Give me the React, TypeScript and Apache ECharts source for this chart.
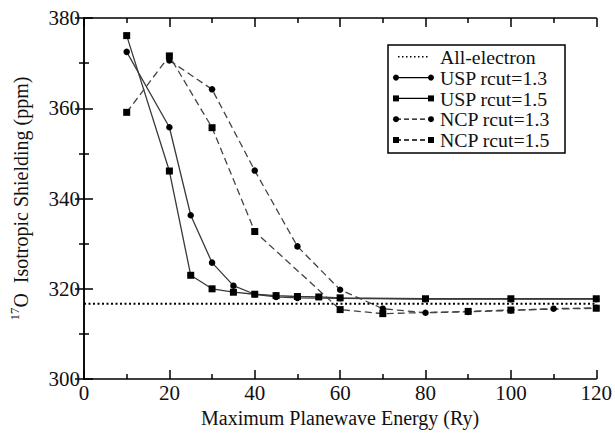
import React, { useEffect, useRef } from "react";
import * as echarts from "echarts";

const uspX13 = [10, 20, 25, 30, 35, 40, 45, 50, 60, 80, 100, 120];
const uspY13 = [372.5, 355.8, 336.3, 325.8, 320.7, 318.8, 318.2, 318.0, 317.9, 317.7, 317.7, 317.7];
const uspX15 = [10, 20, 25, 30, 35, 40, 45, 50, 55, 60, 80, 100, 120];
const uspY15 = [376.1, 346.1, 323.0, 320.0, 319.25, 318.8, 318.5, 318.3, 318.2, 318.0, 317.8, 317.8, 317.8];
const ncpX13 = [20, 30, 40, 50, 60, 70, 80, 90, 100, 110, 120];
const ncpY13 = [370.6, 364.2, 346.2, 329.4, 319.8, 315.6, 314.7, 314.9, 315.2, 315.6, 315.8];
const ncpX15 = [10, 20, 30, 40, 60, 70, 90, 100, 120];
const ncpY15 = [359.1, 371.6, 355.7, 332.7, 315.4, 314.5, 315.0, 315.3, 315.7];
const allElectronX = [0, 120];
const allElectronValue = 316.7;

const legendNames = ["All-electron", "USP rcut=1.3", "USP rcut=1.5", "NCP rcut=1.3", "NCP rcut=1.5"];
const legendSymbols = ["none", "circle", "rect", "circle", "rect"];
const legendDashed = [false, false, false, true, true];

const FONT = "'Liberation Serif', 'Times New Roman', serif";

export default function App() {
  const ref = useRef<HTMLDivElement>(null);
  useEffect(() => {
    document.body.style.margin = "0";
    const chart = echarts.init(ref.current!, null, { renderer: "svg" });
    const zip = (xs: number[], ys: number[]) => xs.map((x, i) => [x, ys[i]]);
    const mk = (name: string, xs: number[], ys: number[], sym: string, dashed: boolean) => ({
      name,
      type: "line",
      data: zip(xs, ys),
      symbol: sym,
      symbolSize: sym === "rect" ? 7 : 6.5,
      itemStyle: { color: "#000" },
      lineStyle: { color: dashed ? "#444" : "#3a3a3a", width: 1.3, type: dashed ? [7, 4] : "solid" },
      z: 3,
    });

    const legendGraphics: any[] = [];
    const bx = 388, by = 45, bw = 177, bh = 108;
    legendGraphics.push({
      type: "rect",
      shape: { x: bx, y: by, width: bw, height: bh },
      style: { fill: "#fff", stroke: "#000", lineWidth: 1.5 },
      z: 10,
    });
    legendNames.forEach((n, i) => {
      const y = 56.8 + i * 20.8;
      if (i === 0) {
        legendGraphics.push({
          type: "line",
          shape: { x1: 398, y1: y, x2: 428, y2: y },
          style: { stroke: "#000", lineWidth: 1.5, lineDash: [1.5, 2.5] },
          z: 11,
        });
      } else {
        legendGraphics.push({
          type: "line",
          shape: { x1: 396, y1: y, x2: 431, y2: y },
          style: { stroke: "#000", lineWidth: 1.3, lineDash: legendDashed[i] ? [5, 3] : null },
          z: 11,
        });
        [396, 431].forEach((cx) => {
          if (legendSymbols[i] === "circle") {
            legendGraphics.push({ type: "circle", shape: { cx, cy: y, r: 3 }, style: { fill: "#000" }, z: 12 });
          } else {
            legendGraphics.push({ type: "rect", shape: { x: cx - 3, y: y - 3, width: 6, height: 6 }, style: { fill: "#000" }, z: 12 });
          }
        });
      }
      legendGraphics.push({
        type: "text",
        x: 440,
        y: y + 1,
        scaleX: 1.1,
        style: {
          text: n,
          fontFamily: FONT,
          fontSize: 18,
          fill: "#111",
          verticalAlign: "middle",
          align: "left",
        },
        z: 12,
      });
    });

    const tickCommon = {
      axisTick: { show: true, inside: true, length: 9, lineStyle: { color: "#000", width: 1.5 } },
      minorTick: { show: true, splitNumber: 2, length: 5, lineStyle: { color: "#000", width: 1.5 } },
      axisLine: { show: true, lineStyle: { color: "#000", width: 1.5 } },
      splitLine: { show: false },
    };

    chart.setOption({
      animation: false,
      backgroundColor: "#fff",
      textStyle: { fontFamily: FONT },
      grid: { left: 82, right: 18, top: 18, bottom: 49 },
      xAxis: [
        {
          type: "value",
          min: 0,
          max: 120,
          interval: 20,
          ...tickCommon,
          axisLabel: { fontFamily: FONT, fontSize: 21, color: "#111", margin: 3 },
          name: "Maximum Planewave Energy (Ry)",
          nameLocation: "middle",
          nameGap: 28,
          nameTextStyle: { fontFamily: FONT, fontSize: 20, color: "#111" },
        },
        {
          type: "value",
          position: "top",
          min: 0,
          max: 120,
          interval: 20,
          ...tickCommon,
          axisLabel: { show: false },
        },
      ],
      yAxis: [
        {
          type: "value",
          min: 300,
          max: 380,
          interval: 20,
          ...tickCommon,
          axisLabel: { fontFamily: FONT, fontSize: 21, color: "#111", margin: 4 },
          name: "{sup|17}{main|O  Isotropic Shielding (ppm)}",
          nameLocation: "middle",
          nameGap: 50,
          nameRotate: 90,
          nameTextStyle: {
            fontFamily: FONT,
            color: "#111",
            rich: {
              sup: { fontFamily: FONT, fontSize: 13, color: "#111", verticalAlign: "top", lineHeight: 26 },
              main: { fontFamily: FONT, fontSize: 20, color: "#111", lineHeight: 26 },
            },
          },
        },
        {
          type: "value",
          position: "right",
          min: 300,
          max: 380,
          interval: 20,
          ...tickCommon,
          axisLabel: { show: false },
        },
      ],
      series: [
        {
          name: "All-electron",
          type: "line",
          data: allElectronX.map((x) => [x, allElectronValue]),
          symbol: "none",
          lineStyle: { color: "#000", width: 2, type: [2, 2.5] },
          z: 2,
        },
        mk("USP rcut=1.3", uspX13, uspY13, "circle", false),
        mk("USP rcut=1.5", uspX15, uspY15, "rect", false),
        mk("NCP rcut=1.3", ncpX13, ncpY13, "circle", true),
        mk("NCP rcut=1.5", ncpX15, ncpY15, "rect", true),
      ],
      graphic: legendGraphics,
    });
    return () => chart.dispose();
  }, []);
  return <div ref={ref} style={{ width: 615, height: 433 }} />;
}
